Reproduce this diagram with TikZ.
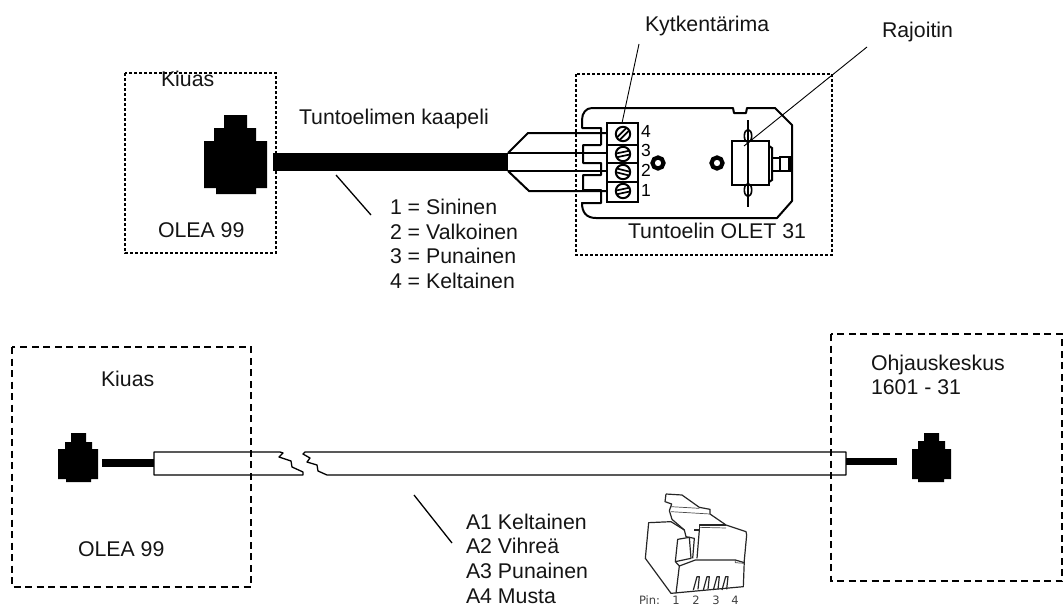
\documentclass[tikz,border=0pt]{standalone}
\usepackage{fontspec}
\setmainfont{Liberation Sans}
\newfontfamily\pinfont{DejaVu Sans}
\tikzset{
  lbl/.style={anchor=base west,inner sep=0pt,outer sep=0pt,font=\fontsize{21.3pt}{24.6pt}\selectfont,align=left,text=black!92},
  numlbl/.style={anchor=base west,inner sep=0pt,outer sep=0pt,font=\fontsize{17.5pt}{18pt}\selectfont},
  pinlbl/.style={anchor=base,inner sep=0pt,outer sep=0pt,font=\pinfont\fontsize{11.5pt}{13pt}\selectfont,text=black!75},
  dotbox/.style={line width=1.5pt,dash pattern=on 3pt off 2pt},
  dashbox/.style={line width=1.4pt,dash pattern=on 7pt off 4.5pt},
  wire/.style={line width=2pt,line join=miter},
  leader/.style={line width=0.9pt},
  leaderb/.style={line width=1.3pt},
  sheath/.style={line width=1.3pt,line join=round},
  art/.style={line width=1.2pt,draw=black!85,line join=round},
  artthin/.style={line width=0.7pt,draw=black!70,line join=round},
  ring/.style={line width=4.2pt,draw=black},
  screwring/.style={line width=2pt,draw=black,fill=white},
  slot/.style={line width=1.7pt},
}
\begin{document}
\begin{tikzpicture}[x=1pt,y=-1pt]
\useasboundingbox (0,0) rectangle (1064,608);
% --- upper panel ---
\fill (224,115) -| (247,128) -| (256,141) -| (267,188) -| (256,194) -| (216,188) -| (204,141) -| (214,128) -| cycle;
\coordinate (cabL) at (273,162);
\coordinate (cabR) at (508,162);
\draw[line width=18pt] (cabL) -- (cabR);
% housing
\draw[line width=2pt,line join=round]
  (601,145) -- (583,145) -- (583,163) -- (601,163) -- (601,175) -- (583,175) -- (583,190) -- (601,190) -- (601,203) -- (582,203)
  .. controls (582,212) and (586,218) .. (596,218) -- (777,218) -- (792,201) -- (792,125) -- (775,108)
  -- (747,108) -- (746,113) -- (734,113) -- (733,108) -- (592,108)
  .. controls (586,108) and (582,113) .. (582,120) -- (582,128) -- (601,128) -- (601,145);
% terminal block
\draw[line width=2pt] (607,123) rectangle (638,202);
\draw[line width=2pt] (607,145) -- (638,145) (607,163) -- (638,163) (607,182) -- (638,182);
% wires
\coordinate (fanU) at (508,153);
\coordinate (fanD) at (508,171);
\draw[wire] (fanU) -- (528,133) -- (607,133);
\draw[wire] (fanU) -- (607,153);
\draw[wire] (fanD) -- (607,171);
\draw[wire] (fanD) -- (529,191) -- (607,191);
% screws
\foreach \y/\a in {134/45,154/12,172/-14,191/12}{
  \draw[screwring] (623,\y) circle (7.2);
  \begin{scope}[shift={(623pt,-\y pt)},rotate=\a]
    \draw[slot] (-6.6,1.9) -- (6.6,1.9);
    \draw[slot] (-6.6,-1.9) -- (6.6,-1.9);
  \end{scope}
}
\node[numlbl] (n4) at (641,137) {4};
\node[numlbl] (n3) at (641,156) {3};
\node[numlbl] (n2) at (641,176) {2};
\node[numlbl] (n1) at (641,196) {1};
% mounting holes
\draw[ring] (658,163) circle (5.5);
\draw[ring] (717,163) circle (5.5);
% limiter
\draw[line width=2pt] (732,141) rectangle (769,185);
\draw[line width=2pt] (769,146) -- (772,148) -- (772,180) -- (769,182);
\draw[line width=1.8pt] (772,158) -- (780,158) -- (780,171) -- (772,171);
\draw[line width=1.8pt] (780,157) rectangle (789,171);
\draw[line width=3pt] (790,156) -- (790,172);
\draw[line width=1.6pt] (748,136) ellipse (3.7 and 6.5);
\draw[line width=1.6pt] (748,190) ellipse (3.7 and 6.5);
\draw[line width=1.6pt] (748,120) -- (748,207);
% dotted boxes
\draw[dotbox] (125,73) rectangle (276,253);
\draw[dotbox] (576,74) rectangle (832,255);
% labels
\node[lbl] (kiuasA) at (161,86) {Kiuas};
\node[lbl] (oleaA) at (158,237) {OLEA 99};
\node[lbl] (tunto) at (299,124) {Tuntoelimen kaapeli};
\node[lbl] (col1) at (390,214) {1 = Sininen};
\node[lbl] (col2) at (390,239) {2 = Valkoinen};
\node[lbl] (col3) at (390,263) {3 = Punainen};
\node[lbl] (col4) at (390,288) {4 = Keltainen};
\node[lbl] (olet) at (628,238) {Tuntoelin OLET 31};
\node[lbl] (kyt) at (645,31) {Kytkentärima};
\node[lbl] (raj) at (882,37) {Rajoitin};
% leaders
\coordinate (l1a) at (336,175); \coordinate (l1b) at (371,215);
\draw[leaderb] (l1a) -- (l1b);
\coordinate (l2a) at (639,44); \coordinate (l2b) at (622,123);
\draw[leader] (l2a) -- (l2b);
\coordinate (l3a) at (867,47); \coordinate (l3b) at (744,146);
\draw[leader] (l3a) -- (l3b);
% --- lower panel ---
\fill (71,433) -| (86,442) -| (92,449) -| (98,479) -| (91,482) -| (66,479) -| (58,449) -| (65,442) -| cycle;
\fill (924,433) -| (939,441) -| (945,449) -| (951,479) -| (944,482) -| (918,479) -| (912,449) -| (918,441) -| cycle;
% thin cables
\coordinate (tl1) at (102,463); \coordinate (tl2) at (154,463);
\draw[line width=8pt] (tl1) -- (tl2);
\coordinate (tr1) at (846,461.5); \coordinate (tr2) at (897,461.5);
\draw[line width=7.5pt] (tr1) -- (tr2);
% sheath
\draw[sheath] (280,452) -- (154,452) -- (154,475) -- (303,475) -- (303,472) -- (292,467) -- (291,461) -- (279,457) -- (283,453) -- (280,452);
\draw[sheath] (327,475) -- (846,475) -- (846,452) -- (305,452) -- (303,454) -- (310,458) -- (307,462) -- (317,465) -- (318,471) -- (327,475);
% dashed boxes
\draw[dashbox] (12,347) rectangle (251,587);
\draw[dashbox] (831,334) rectangle (1062,581);
% labels
\node[lbl] (kiuasB) at (101,386) {Kiuas};
\node[lbl] (oleaB) at (78,556) {OLEA 99};
\node[lbl] (ohj1) at (871,370) {Ohjauskeskus};
\node[lbl] (ohj2) at (871,394) {1601 - 31};
\node[lbl] (a1) at (466,529) {A1 Keltainen};
\node[lbl] (a2) at (466,553) {A2 Vihreä};
\node[lbl] (a3) at (466,578) {A3 Punainen};
\node[lbl] (a4) at (466,603) {A4 Musta};
\coordinate (l4a) at (414,495); \coordinate (l4b) at (452,543);
\draw[leaderb] (l4a) -- (l4b);
% RJ plug line art
\begin{scope}[shift={(636pt,-480pt)},x=0.3333pt,y=-0.3333pt]
  \draw[art] (90,42) -- (138,45) -- (190,82) -- (222,88) -- (222,102) -- (270,135) -- (330,155) -- (332,165) -- (325,240) -- (322,320) -- (105,340) -- (28,235) -- (38,128) -- (105,125) -- (145,150) -- (150,170) -- (175,175) -- (170,235);
  \draw[art] (90,42) -- (87,65) -- (107,72) -- (100,92) -- (108,118) -- (145,150);
  \draw[artthin] (105,80) -- (190,85);
  \draw[artthin] (105,95) -- (222,102);
  \draw[art] (175,150) -- (190,150) -- (190,135) -- (270,135);
  \draw[artthin] (190,142) -- (270,144);
  \draw[art] (190,150) -- (183,235);
  \draw[art] (125,178) -- (160,172) -- (165,235) -- (118,245) -- cycle;
  \draw[art] (118,245) -- (130,258) -- (178,240) -- (298,240) -- (325,248);
  \draw[artthin] (298,240) -- (298,248) -- (325,250);
  \draw[art] (130,258) -- (120,340);
  \foreach \p in {0,30,60,86}{
    \draw[art] (172+\p,330) -- (183+\p,290) -- (190+\p,290) -- (186+\p,328);
  }
\end{scope}
\node[pinlbl,anchor=base west] (pinT) at (639,604) {Pin:};
\node[pinlbl] (p1) at (676,604) {1};
\node[pinlbl] (p2) at (696,604) {2};
\node[pinlbl] (p3) at (716,604) {3};
\node[pinlbl] (p4) at (735,604) {4};
\end{tikzpicture}
\end{document}
